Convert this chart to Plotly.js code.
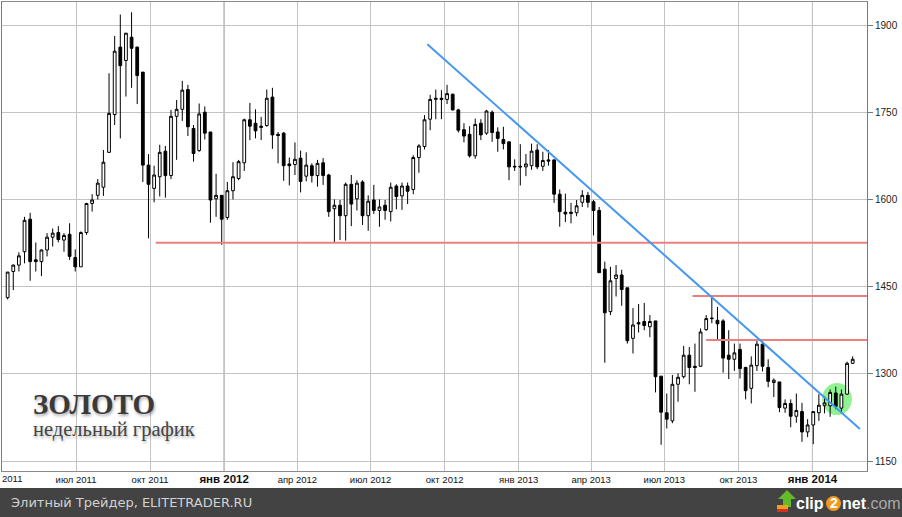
<!DOCTYPE html>
<html><head><meta charset="utf-8">
<script src="https://cdn.plot.ly/plotly-3.0.1.min.js"></script>
<style>html,body{margin:0;padding:0;background:#fff;overflow:hidden}#chart{width:902px;height:517px}</style>
</head><body><div id="chart"></div>
<script>
const weeks = [
'2011-04-07','2011-04-14','2011-04-21','2011-04-28','2011-05-05','2011-05-12','2011-05-19','2011-05-26','2011-06-02','2011-06-09','2011-06-16','2011-06-23','2011-06-30','2011-07-07','2011-07-14','2011-07-21','2011-07-28','2011-08-04','2011-08-11','2011-08-18','2011-08-25','2011-09-01','2011-09-08','2011-09-15','2011-09-22','2011-09-29','2011-10-06','2011-10-13','2011-10-20','2011-10-27','2011-11-03','2011-11-10','2011-11-17','2011-11-24','2011-12-01','2011-12-08','2011-12-15','2011-12-22','2011-12-29',
'2012-01-05','2012-01-12','2012-01-19','2012-01-26','2012-02-02','2012-02-09','2012-02-16','2012-02-23','2012-03-01','2012-03-08','2012-03-15','2012-03-22','2012-03-29','2012-04-05','2012-04-12','2012-04-19','2012-04-26','2012-05-03','2012-05-10','2012-05-17','2012-05-24','2012-05-31','2012-06-07','2012-06-14','2012-06-21','2012-06-28','2012-07-05','2012-07-12','2012-07-19','2012-07-26','2012-08-02','2012-08-09','2012-08-16','2012-08-23','2012-08-30','2012-09-06','2012-09-13','2012-09-20','2012-09-27','2012-10-04','2012-10-11','2012-10-18','2012-10-25','2012-11-01','2012-11-08','2012-11-15','2012-11-22','2012-11-29','2012-12-06','2012-12-13','2012-12-20','2012-12-27',
'2013-01-03','2013-01-10','2013-01-17','2013-01-24','2013-01-31','2013-02-07','2013-02-14','2013-02-21','2013-02-28','2013-03-07','2013-03-14','2013-03-21','2013-03-28','2013-04-04','2013-04-11','2013-04-18','2013-04-25','2013-05-02','2013-05-09','2013-05-16','2013-05-23','2013-05-30','2013-06-06','2013-06-13','2013-06-20','2013-06-27','2013-07-04','2013-07-11','2013-07-18','2013-07-25','2013-08-01','2013-08-08','2013-08-15','2013-08-22','2013-08-29','2013-09-05','2013-09-12','2013-09-19','2013-09-26','2013-10-03','2013-10-10','2013-10-17','2013-10-24','2013-10-31','2013-11-07','2013-11-14','2013-11-21','2013-11-28','2013-12-05','2013-12-12','2013-12-19','2013-12-26',
'2014-01-02','2014-01-09','2014-01-16','2014-01-23','2014-01-30','2014-02-06','2014-02-13','2014-02-20'];

const openP = [1431,1476,1487,1510,1566,1496,1493,1513,1535,1543,1530,1540,1500,1484,1543,1593,1607,1621,1681,1746,1862,1839,1879,1862,1819,1659,1619,1639,1683,1641,1743,1755,1789,1722,1684,1750,1716,1601,1607,1569,1615,1636,1663,1737,1731,1726,1727,1776,1712,1714,1661,1660,1671,1640,1658,1641,1663,1642,1584,1590,1572,1626,1601,1630,1572,1599,1581,1590,1579,1623,1606,1623,1617,1672,1691,1738,1772,1774,1772,1781,1754,1720,1712,1675,1731,1714,1750,1716,1703,1699,1657,1657,1656,1658,1685,1657,1668,1668,1609,1578,1578,1577,1595,1607,1596,1581,1480,1407,1464,1470,1448,1361,1388,1390,1381,1391,1296,1233,1219,1282,1295,1332,1313,1313,1376,1396,1392,1391,1332,1325,1342,1311,1275,1314,1351,1311,1285,1286,1241,1249,1227,1235,1200,1212,1233,1245,1245,1267,1241,1265,1318];
const highP = [1475,1488,1509,1570,1577,1526,1514,1542,1550,1554,1542,1559,1514,1545,1594,1609,1635,1685,1817,1881,1918,1886,1922,1863,1819,1678,1658,1694,1692,1754,1771,1804,1797,1728,1765,1760,1716,1644,1607,1630,1664,1668,1739,1766,1755,1742,1789,1792,1716,1716,1672,1698,1684,1681,1662,1668,1671,1644,1600,1599,1629,1642,1633,1633,1607,1625,1600,1599,1629,1626,1629,1629,1676,1695,1745,1780,1789,1788,1797,1782,1756,1731,1726,1739,1738,1754,1753,1724,1725,1699,1669,1695,1678,1696,1695,1682,1685,1669,1617,1610,1594,1599,1616,1613,1599,1587,1493,1484,1487,1479,1448,1413,1420,1422,1401,1391,1296,1266,1298,1301,1348,1346,1352,1378,1401,1434,1415,1394,1375,1352,1352,1312,1330,1358,1358,1325,1292,1286,1256,1256,1266,1250,1222,1235,1265,1261,1273,1278,1273,1321,1330];
const lowP = [1428,1444,1476,1490,1460,1476,1468,1502,1519,1526,1510,1496,1476,1484,1539,1579,1600,1606,1680,1728,1705,1777,1792,1764,1630,1533,1595,1605,1603,1635,1668,1735,1709,1665,1682,1703,1560,1570,1522,1565,1600,1633,1649,1702,1705,1702,1725,1687,1662,1632,1624,1642,1612,1631,1629,1622,1625,1570,1526,1530,1529,1554,1581,1556,1546,1575,1553,1565,1562,1583,1582,1592,1609,1646,1686,1719,1738,1738,1764,1753,1715,1698,1672,1670,1702,1711,1699,1682,1686,1633,1649,1624,1640,1651,1652,1649,1658,1594,1553,1561,1559,1571,1587,1586,1538,1474,1319,1401,1433,1417,1352,1335,1371,1375,1363,1268,1178,1206,1215,1252,1292,1282,1269,1312,1374,1387,1358,1302,1291,1305,1292,1256,1249,1305,1304,1277,1260,1234,1233,1208,1216,1183,1191,1179,1219,1232,1226,1239,1233,1264,1317];
const closeP = [1475,1487,1503,1564,1493,1493,1513,1535,1542,1531,1538,1502,1484,1543,1593,1599,1628,1664,1748,1855,1830,1886,1860,1813,1659,1626,1642,1681,1641,1743,1755,1788,1725,1679,1747,1714,1599,1607,1566,1615,1639,1665,1737,1726,1718,1724,1774,1711,1710,1658,1658,1669,1631,1659,1641,1662,1641,1579,1590,1572,1626,1592,1628,1572,1597,1581,1587,1581,1621,1605,1623,1614,1672,1692,1737,1772,1774,1772,1782,1754,1719,1709,1675,1729,1711,1752,1715,1705,1696,1656,1656,1656,1661,1683,1656,1667,1666,1609,1579,1575,1576,1589,1607,1595,1581,1474,1405,1460,1470,1445,1357,1384,1386,1383,1390,1295,1234,1222,1282,1294,1332,1311,1311,1372,1395,1395,1386,1327,1325,1336,1309,1271,1315,1351,1313,1287,1289,1242,1249,1227,1237,1200,1212,1235,1246,1250,1268,1244,1265,1318,1325];

const tickDates = ['2011-04-01','2011-07-01','2011-10-01','2012-01-01','2012-04-01','2012-07-01','2012-10-01','2013-01-01','2013-04-01','2013-07-01','2013-10-01','2014-01-01'];
const tickLabels = ['апр 2011','июл 2011','окт 2011','<span style="font-size:11.5px"><b>янв 2012</b></span>','апр 2012','июл 2012','окт 2012','янв 2013','апр 2013','июл 2013','окт 2013','<span style="font-size:11.5px"><b>янв 2014</b></span>'];
const edgeLabel = '2011';
const priceTicks = [1150,1300,1450,1600,1750,1900];

const supportLevels = [1525.5, 1434, 1358];
const supportStarts = ['2011-10-08','2013-08-05','2013-08-22'];
const trendStart = ['2012-09-09 12:00', 1867];
const trendEnd = ['2014-03-01', 1205];

const L=2, R=35, T=2, B=46, W=902, H=517;
const pw = W-L-R, ph = H-T-B;
const X = px => (px-L)/pw;
const Y = py => (H-B-py)/ph;

const shapes = [];
['2012-01-01','2014-01-01'].forEach(d => shapes.push({type:'line',xref:'x',yref:'paper',x0:d,x1:d,y0:0,y1:1,line:{color:'#7a7a7a',width:1},layer:'between'}));
shapes.push({type:'circle',xref:'x',yref:'y',x0:'2014-01-13',x1:'2014-02-19',y0:1229,y1:1284,fillcolor:'rgba(125,240,125,0.85)',line:{width:0},layer:'between'});
supportLevels.forEach((v,i)=>shapes.push({type:'line',xref:'x',yref:'y',x0:supportStarts[i],x1:'2014-03-20',y0:v,y1:v,line:{color:'#ec8080',width:2}}));
shapes.push({type:'line',xref:'x',yref:'y',x0:trendStart[0],y0:trendStart[1],x1:trendEnd[0],y1:trendEnd[1],line:{color:'#4598f2',width:2}});
// footer band
shapes.push({type:'rect',xref:'paper',yref:'paper',x0:X(0),x1:X(W),y0:Y(488),y1:Y(H+2),fillcolor:'#434343',line:{width:0}});
// clip2net logo bits
shapes.push({type:'circle',xref:'paper',yref:'paper',x0:X(826),x1:X(841),y0:Y(511),y1:Y(496),fillcolor:'#f39a1e',line:{width:0}});
const arrow = [[787,490],[796,499],[791,499],[791,507],[783,507],[783,499],[778,499]];
shapes.push({type:'path',xref:'paper',yref:'paper',path:'M'+arrow.map(p=>X(p[0])+','+Y(p[1])).join(' L')+' Z',fillcolor:'#63bb2b',line:{width:0}});
shapes.push({type:'rect',xref:'paper',yref:'paper',x0:X(777),x1:X(788),y0:Y(511),y1:Y(505),fillcolor:'#f0a020',line:{width:0}});
shapes.push({type:'rect',xref:'paper',yref:'paper',x0:X(777),x1:X(788),y0:Y(512),y1:Y(509),fillcolor:'#d83020',line:{width:0}});

const annotations = [
 {xref:'paper',yref:'paper',x:X(31),y:Y(404),xanchor:'left',yanchor:'middle',showarrow:false,text:'<b>ЗОЛОТО</b>',font:{family:'Liberation Serif, serif',size:29,color:'#3a3a3a',shadow:'1px 2px 3px rgba(0,0,0,0.35)'}},
 {xref:'paper',yref:'paper',x:X(31),y:Y(429),xanchor:'left',yanchor:'middle',showarrow:false,text:'недельный график',font:{family:'Liberation Serif, serif',size:20.5,color:'#444',shadow:'1px 2px 3px rgba(0,0,0,0.3)'}},
 {xref:'paper',yref:'paper',x:X(0),y:Y(478),xanchor:'left',yanchor:'middle',showarrow:false,text:edgeLabel,font:{family:'Liberation Sans, Arial, sans-serif',size:9.5,color:'#111'}},
 {xref:'paper',yref:'paper',x:X(9),y:Y(502),xanchor:'left',yanchor:'middle',showarrow:false,text:'Элитный Трейдер, ELITETRADER.RU',font:{family:'DejaVu Sans, sans-serif',size:13,color:'#d2d2d2'}},
 {xref:'paper',yref:'paper',x:X(826),y:Y(503),xanchor:'right',yanchor:'middle',showarrow:false,text:'<b>clip</b>',font:{family:'Liberation Sans, Arial, sans-serif',size:16,color:'#ffffff'}},
 {xref:'paper',yref:'paper',x:X(833.5),y:Y(503),xanchor:'center',yanchor:'middle',showarrow:false,text:'<b>2</b>',font:{family:'Liberation Sans, Arial, sans-serif',size:14,color:'#ffffff'}},
 {xref:'paper',yref:'paper',x:X(840),y:Y(503),xanchor:'left',yanchor:'middle',showarrow:false,text:'<b>net</b><span style="color:#a8a8a8">.com</span>',font:{family:'Liberation Sans, Arial, sans-serif',size:16,color:'#ffffff'}}
];

const trace = {
  type:'candlestick', x:weeks, open:openP, high:highP, low:lowP, close:closeP,
  increasing:{line:{color:'#000000',width:1},fillcolor:'#ffffff'},
  decreasing:{line:{color:'#000000',width:1},fillcolor:'#000000'},
  whiskerwidth:0, hoverinfo:'skip', showlegend:false
};

const layout = {
  width:W, height:H, margin:{l:L,r:R,t:T,b:B,pad:0},
  paper_bgcolor:'#ffffff', plot_bgcolor:'#ffffff', showlegend:false,
  xaxis:{type:'date', range:['2011-03-31','2014-03-09 19:00'], rangeslider:{visible:false},
    tickmode:'array', tickvals:tickDates, ticktext:tickLabels, showgrid:true, gridcolor:'#c3c3c3', gridwidth:1,
    showline:true, linecolor:'#8a8a8a', linewidth:1, mirror:true, ticks:'', zeroline:false,
    tickfont:{family:'Liberation Sans, Arial, sans-serif', size:9.5, color:'#111'}, fixedrange:true},
  yaxis:{range:[1132.8,1939.6], side:'right', tickmode:'array', tickvals:priceTicks, showgrid:true, gridcolor:'#c3c3c3',
    showline:true, linecolor:'#7a7a7a', linewidth:1, mirror:true, ticks:'outside', ticklen:5, tickcolor:'#7a7a7a',
    tickfont:{family:'Liberation Sans, Arial, sans-serif', size:10, color:'#222'}, zeroline:false, fixedrange:true},
  shapes:shapes, annotations:annotations
};

Plotly.newPlot('chart',[trace],layout,{staticPlot:true,displayModeBar:false});
</script>
</body></html>
